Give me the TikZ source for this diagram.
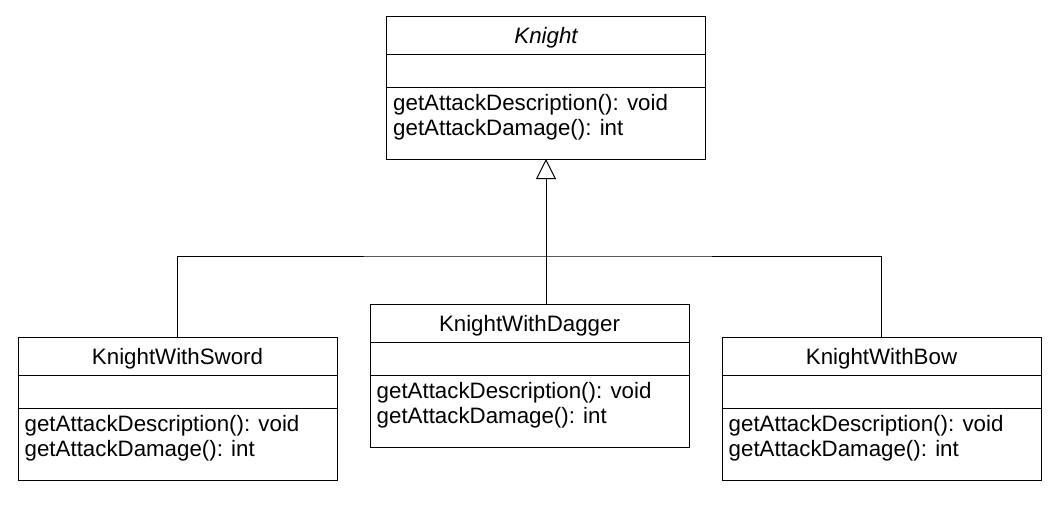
\documentclass[tikz,border=0pt]{standalone}
\usepackage{fontspec}
\setmainfont{Liberation Sans}
\usetikzlibrary{arrows.meta}
\tikzset{
  classbox/.style={draw, line width=1pt, minimum width=319pt, minimum height=143pt, inner sep=0pt, outer sep=0pt, anchor=north west},
  divider/.style={line width=1pt},
  titletext/.style={anchor=base, inner sep=0pt, font=\fontsize{22.3pt}{25.6pt}\selectfont},
  methodtext/.style={anchor=north west, inner sep=0pt, align=left, font=\fontsize{22.3pt}{25.6pt}\selectfont},
  link/.style={line width=1pt},
  inherit/.style={line width=1pt, -{Triangle[open, length=20pt, width=20pt]}}
}
\newcommand{\umlclass}[4]{%
  \node[classbox] (#1) at (#2,#3) {};
  \draw[divider] ([yshift=-38pt]#1.north west) -- ([yshift=-38pt]#1.north east);
  \draw[divider] ([yshift=-71pt]#1.north west) -- ([yshift=-71pt]#1.north east);
  \node[titletext] (#1-title) at ([yshift=-27pt]#1.north) {#4};
  \node[methodtext] (#1-methods) at ([xshift=6.5pt,yshift=-78pt]#1.north west)
     {getAttackDescription(): void\\getAttackDamage(): int};
}
\begin{document}
\begin{tikzpicture}[x=1pt,y=-1pt]
\useasboundingbox (0,0) rectangle (1064,504);
\fill[white] (0,0) rectangle (1064,504);
\umlclass{k}{386.5}{16}{\itshape Knight}
\umlclass{ks}{18}{337}{KnightWithSword}
\umlclass{kd}{370}{304}{KnightWithDagger}
\umlclass{kb}{722}{337}{KnightWithBow}
\coordinate (j) at (546,256);
\draw[link] (ks.north) |- (j) -| (kb.north);
\draw[inherit] (kd.north -| k.south) -- (k.south);
\end{tikzpicture}
\end{document}
